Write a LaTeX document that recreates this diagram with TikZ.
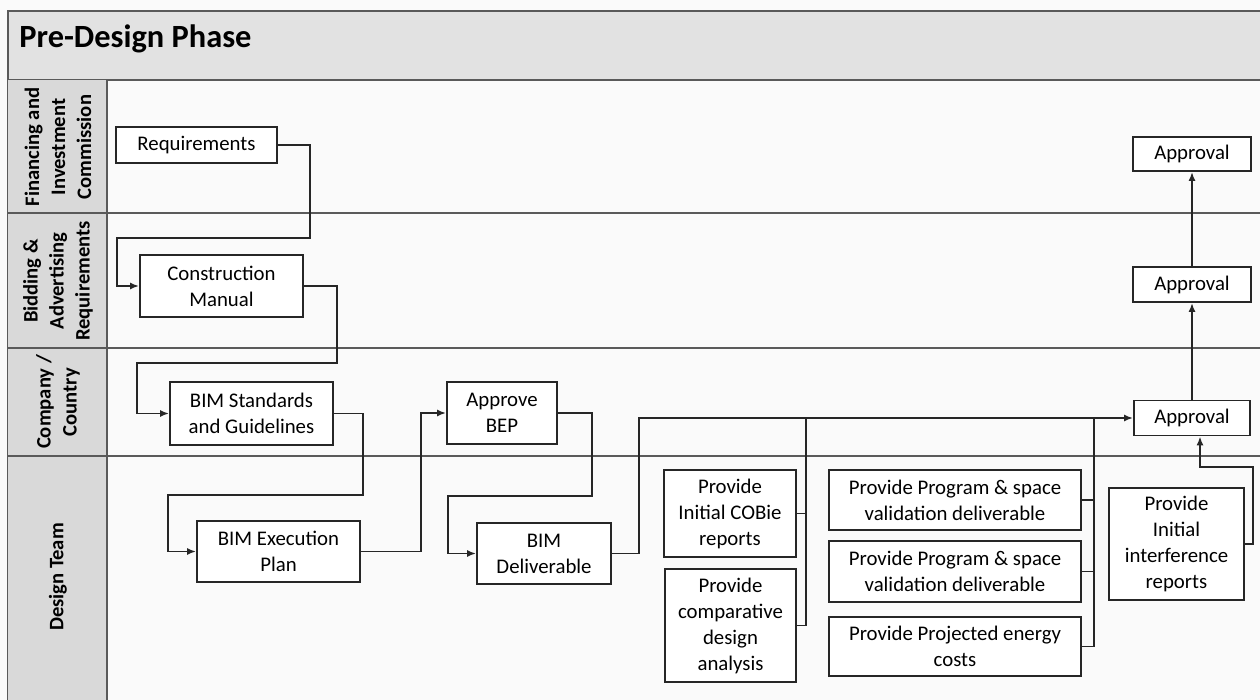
\documentclass[tikz,border=0pt]{standalone}
\usepackage{fontspec}
\setmainfont{Carlito}
\usetikzlibrary{arrows.meta}
\definecolor{boxc}{HTML}{262626}
\definecolor{framec}{HTML}{5A5A5A}
\definecolor{headfill}{HTML}{E2E2E2}
\definecolor{lanefill}{HTML}{D9D9D9}
\begin{document}
\begin{tikzpicture}[x=0.5pt,y=-0.5pt,
  box/.style={draw=boxc, line width=0.9pt, fill=white, align=center, inner sep=0pt,
    font=\fontsize{10.4}{13}\selectfont},
  conn/.style={draw=boxc, line width=0.9pt},
  arr/.style={conn, -{Latex[length=4.5pt,width=3.5pt]}},
  lanelbl/.style={rotate=90, align=center, font=\fontsize{10.3}{13}\selectfont\bfseries},
  frame/.style={draw=framec, line width=1pt}]
\useasboundingbox (0,0) rectangle (1260,700);
\clip (0,0) rectangle (1260,700);
\fill[white!98!black] (0,0) rectangle (1260,700);
% header
\fill[headfill] (8,11) rectangle (1270,80);
\draw[frame] (1270,11) -- (8,11) -- (8,710);
\draw[frame] (8,80) -- (1270,80);
\node[anchor=base west, inner sep=0pt, font=\fontsize{16.2}{19}\selectfont\bfseries] (title) at (19,48) {Pre-Design Phase};
% lane column
\fill[lanefill] (8,80) rectangle (107,710);
\draw[frame] (107,80) -- (107,710);
\draw[frame] (8,213) -- (1270,213);
\draw[frame] (8,348) -- (1270,348);
\draw[frame] (8,456) -- (1270,456);
\node[lanelbl] (l1) at (58,147) {Financing and\\Investment\\Commission};
\node[lanelbl] (l2) at (58,281) {Bidding \&\\Advertising\\Requirements};
\node[lanelbl] (l3) at (58,402) {Company /\\Country};
\node[lanelbl] (l4) at (58,577) {Design Team};
% boxes
\node[box, minimum width=80.5pt, minimum height=18pt] (req) at (196.5,145) {Requirements};
\node[box, minimum width=81.5pt, minimum height=31pt] (cm) at (221.5,286) {Construction\\Manual};
\node[box, minimum width=81.5pt, minimum height=31.5pt] (bsg) at (251.5,413.5) {BIM Standards\\and Guidelines};
\node[box, minimum width=81.5pt, minimum height=30.5pt] (bep) at (278.5,551.5) {BIM Execution\\Plan};
\node[box, minimum width=55pt, minimum height=31pt] (abep) at (502,413) {Approve\\BEP};
\node[box, minimum width=67pt, minimum height=30.5pt] (bdel) at (544,553.5) {BIM\\Deliverable};
\node[box, minimum width=66pt, minimum height=43.5pt] (cobie) at (730,513.5) {Provide\\Initial COBie\\reports};
\node[box, minimum width=65.5pt, minimum height=56.5pt] (comp) at (730.5,625.5) {Provide\\comparative\\design\\analysis};
\node[box, minimum width=126pt, minimum height=30pt] (prog1) at (955,500) {Provide Program \& space\\validation deliverable};
\node[box, minimum width=126pt, minimum height=30.5pt] (prog2) at (955,571.5) {Provide Program \& space\\validation deliverable};
\node[box, minimum width=126pt, minimum height=29.5pt] (energy) at (955,646.5) {Provide Projected energy\\costs};
\node[box, minimum width=67.5pt, minimum height=56pt] (intf) at (1176.5,544) {Provide\\Initial\\interference\\reports};
\node[box, minimum width=59pt, minimum height=17pt] (ap1) at (1192,154) {Approval};
\node[box, minimum width=59pt, minimum height=17.5pt] (ap2) at (1192,284.5) {Approval};
\node[box, minimum width=58pt, minimum height=17.5pt] (ap3) at (1192,418) {Approval};
% connectors
\draw[arr] (req.east) -| (310,238) -- (117,238) |- (cm.west);
\draw[arr] (cm.east) -| (337,363) -- (137,363) |- (bsg.west);
\draw[arr] (bsg.east) -| (363,495) -- (168,495) |- (bep.west);
\draw[arr] (bep.east) -| (421,413) -- (abep.west);
\draw[arr] (abep.east) -| (592,496) -- (448,496) |- (bdel.west);
\draw[arr] (bdel.east) -| (639,418) -- (ap3.west);
\draw[conn] (cobie.east) -- (806,513.5);
\draw[conn] (comp.east) -| (806,418);
\draw[conn] (prog1.east) -- (1094,500);
\draw[conn] (prog2.east) -- (1094,571.5);
\draw[conn] (energy.east) -| (1094,418);
\draw[arr] (ap3.north) -- (ap2.south);
\draw[arr] (ap2.north) -- (ap1.south);
\coordinate (ib) at (1253,467);
\draw[arr] (intf.east) -| (ib) -| ([xshift=4pt]ap3.south);
\end{tikzpicture}
\end{document}
